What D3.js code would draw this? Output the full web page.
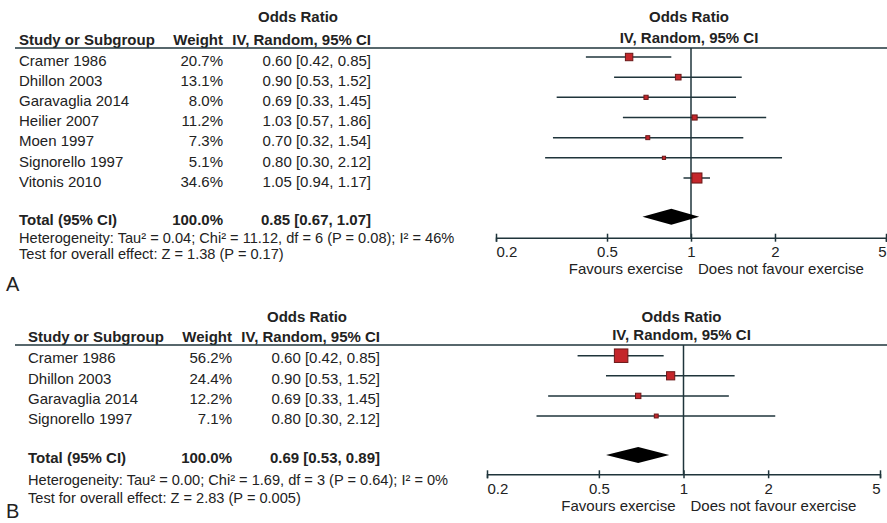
<!DOCTYPE html>
<html>
<head>
<meta charset="utf-8">
<script src="https://cdn.jsdelivr.net/npm/d3@7"></script>
<style>
  html, body { margin: 0; padding: 0; background: #ffffff; }
  svg text { font-family: "Liberation Sans", Arial, sans-serif; fill: #222; }
</style>
</head>
<body>
<div class="forest-container"></div>
<script>
// forest plots: two panels, each a table on the left and the odds ratios on a log axis

// panel A
const studies_a = ['Cramer 1986', 'Dhillon 2003', 'Garavaglia 2014', 'Heilier 2007', 'Moen 1997', 'Signorello 1997', 'Vitonis 2010'];
const weights_a = [20.7, 13.1, 8.0, 11.2, 7.3, 5.1, 34.6];
const or_a = [0.60, 0.90, 0.69, 1.03, 0.70, 0.80, 1.05];
const lo_a = [0.42, 0.53, 0.33, 0.57, 0.32, 0.30, 0.94];
const hi_a = [0.85, 1.52, 1.45, 1.86, 1.54, 2.12, 1.17];
const total_a = [0.85, 0.67, 1.07];
const het_a = 'Heterogeneity: Tau\u00b2 = 0.04; Chi\u00b2 = 11.12, df = 6 (P = 0.08); I\u00b2 = 46%';
const test_a = 'Test for overall effect: Z = 1.38 (P = 0.17)';

// panel B
const studies_b = ['Cramer 1986', 'Dhillon 2003', 'Garavaglia 2014', 'Signorello 1997'];
const weights_b = [56.2, 24.4, 12.2, 7.1];
const or_b = [0.60, 0.90, 0.69, 0.80];
const lo_b = [0.42, 0.53, 0.33, 0.30];
const hi_b = [0.85, 1.52, 1.45, 2.12];
const total_b = [0.69, 0.53, 0.89];
const het_b = 'Heterogeneity: Tau\u00b2 = 0.00; Chi\u00b2 = 1.69, df = 3 (P = 0.64); I\u00b2 = 0%';
const test_b = 'Test for overall effect: Z = 2.83 (P = 0.005)';

// axis
const tick_values = [0.2, 0.5, 1, 2, 5];
const tick_labels = ['0.2', '0.5', '1', '2', '5'];
const favours_left = 'Favours exercise';
const favours_right = 'Does not favour exercise';

const line_color = '#1f343b';
const box_fill = '#c4262b';
const box_stroke = '#6a1818';

function fmt_ci(or, lo, hi) {
   return `${or.toFixed(2)} [${lo.toFixed(2)}, ${hi.toFixed(2)}]`;
}

function build_container(width, height) {
   return d3.select('.forest-container')
      .append('svg')
      .attr('width', width)
      .attr('height', height);
}

function draw_panel(svg, p) {
   const g = svg.append('g').attr('class', 'panel');

   const rows = p.studies.map((s, i) => ({
      name: s, weight: p.weights[i], or: p.or[i], lo: p.lo[i], hi: p.hi[i]
   }));

   const x_scale = d3.scaleLog()
      .domain([tick_values[0], tick_values[tick_values.length - 1]])
      .range(p.plot_range);

   const y_scale = d3.scalePoint()
      .domain(p.studies)
      .range(p.row_range);

   const box_scale = d3.scalePow().exponent(0.6)
      .domain([0, 56.2])
      .range([0, 13.5]);

   // headers
   const bold = sel => sel.style('font-weight', 'bold').style('font-size', '15px');
   g.append('text').attr('x', p.ci_right - 73).attr('y', p.head1_y).attr('dy', '0.35em')
      .attr('text-anchor', 'middle').text('Odds Ratio').call(bold);
   g.append('text').attr('x', p.name_x).attr('y', p.head2_y).attr('dy', '0.35em')
      .text('Study or Subgroup').call(bold);
   g.append('text').attr('x', p.weight_right).attr('y', p.head2_y).attr('dy', '0.35em')
      .attr('text-anchor', 'end').text('Weight').call(bold);
   g.append('text').attr('x', p.ci_right).attr('y', p.head2_y).attr('dy', '0.35em')
      .attr('text-anchor', 'end').text('IV, Random, 95% CI').call(bold);
   g.append('text').attr('x', x_scale(1) - 2).attr('y', p.head1_y).attr('dy', '0.35em')
      .attr('text-anchor', 'middle').text('Odds Ratio').call(bold);
   g.append('text').attr('x', x_scale(1) - 2).attr('y', p.head2_y - 2).attr('dy', '0.35em')
      .attr('text-anchor', 'middle').text('IV, Random, 95% CI').call(bold);

   g.append('line')
      .attr('x1', 15).attr('x2', 887)
      .attr('y1', p.rule_y).attr('y2', p.rule_y)
      .style('stroke', line_color).style('stroke-width', 1.5);

   // study rows text
   const row_text = g.append('g').attr('class', 'row-text')
      .selectAll('g').data(rows).enter().append('g')
      .attr('transform', d => `translate(0, ${y_scale(d.name) + p.text_shift})`)
      .style('font-size', '15px');
   row_text.append('text').attr('x', p.name_x).attr('dy', '0.35em').text(d => d.name);
   row_text.append('text').attr('x', p.weight_right).attr('dy', '0.35em')
      .attr('text-anchor', 'end').text(d => d.weight.toFixed(1) + '%');
   row_text.append('text').attr('x', p.ci_right).attr('dy', '0.35em')
      .attr('text-anchor', 'end').text(d => fmt_ci(d.or, d.lo, d.hi));

   // total row text
   const ty = p.total_y + p.text_shift;
   g.append('text').attr('x', p.name_x).attr('y', ty).attr('dy', '0.35em')
      .text('Total (95% CI)').call(bold);
   g.append('text').attr('x', p.weight_right).attr('y', ty).attr('dy', '0.35em')
      .attr('text-anchor', 'end').text('100.0%').call(bold);
   g.append('text').attr('x', p.ci_right).attr('y', ty).attr('dy', '0.35em')
      .attr('text-anchor', 'end').text(fmt_ci(p.total[0], p.total[1], p.total[2])).call(bold);

   g.append('text').attr('x', p.name_x).attr('y', p.het_y).attr('dy', '0.35em')
      .style('font-size', '14.6px').text(p.het);
   g.append('text').attr('x', p.name_x).attr('y', p.test_y).attr('dy', '0.35em')
      .style('font-size', '14.6px').text(p.test);
   g.append('text').attr('x', 6).attr('y', p.letter_y)
      .style('font-size', '20px').text(p.letter);

   // line of no effect
   g.append('line')
      .attr('x1', x_scale(1)).attr('x2', x_scale(1))
      .attr('y1', p.rule_y).attr('y2', p.axis_y)
      .style('stroke', line_color).style('stroke-width', 1.5);

   // confidence intervals
   g.append('g').attr('class', 'ci-lines')
      .selectAll('line').data(rows).enter().append('line')
      .attr('x1', d => x_scale(d.lo)).attr('x2', d => x_scale(d.hi))
      .attr('y1', d => y_scale(d.name)).attr('y2', d => y_scale(d.name))
      .style('stroke', line_color).style('stroke-width', 1.5);

   // weight boxes
   g.append('g').attr('class', 'boxes')
      .selectAll('rect').data(rows).enter().append('rect')
      .attr('x', d => x_scale(d.or) - box_scale(d.weight) / 2)
      .attr('y', d => y_scale(d.name) - box_scale(d.weight) / 2)
      .attr('width', d => box_scale(d.weight))
      .attr('height', d => box_scale(d.weight))
      .style('fill', box_fill).style('stroke', box_stroke).style('stroke-width', 1);

   // pooled diamond
   const diamond = [
      [x_scale(p.total[1]), p.total_y],
      [x_scale(p.total[0]), p.total_y - 8],
      [x_scale(p.total[2]), p.total_y],
      [x_scale(p.total[0]), p.total_y + 8]
   ];
   g.append('path')
      .attr('d', d3.line()(diamond) + 'Z')
      .style('fill', '#000');

   // axis
   const x_axis = d3.axisBottom(x_scale)
      .tickValues(tick_values)
      .tickFormat((d, i) => tick_labels[i])
      .tickSizeOuter(0)
      .tickSize(4);
   const ax = g.append('g')
      .attr('class', 'x axis')
      .attr('transform', `translate(0, ${p.axis_y})`)
      .call(x_axis);
   ax.select('.domain').style('stroke', line_color).style('stroke-width', 1.5);
   ax.selectAll('.tick line').attr('y1', -4).attr('y2', 4)
      .style('stroke', line_color).style('stroke-width', 1.5);
   ax.selectAll('.tick text')
      .attr('y', 14).attr('dy', '0.35em')
      .attr('text-anchor', (d, i) => i === 0 ? 'start' : (i === tick_values.length - 1 ? 'end' : 'middle'))
      .style('font-size', '15px')
      .style('font-family', '"Liberation Sans", Arial, sans-serif')
      .style('fill', '#222');

   g.append('text').attr('x', x_scale(1) - 8).attr('y', p.axis_y + 31).attr('dy', '0.35em')
      .attr('text-anchor', 'end').style('font-size', '15px').text(favours_left);
   g.append('text').attr('x', x_scale(1) + 7).attr('y', p.axis_y + 31).attr('dy', '0.35em')
      .style('font-size', '15px').text(favours_right);
}

function forest_main() {
   const svg = build_container(887, 523);

   draw_panel(svg, {
      studies: studies_a, weights: weights_a, or: or_a, lo: lo_a, hi: hi_a,
      total: total_a, het: het_a, test: test_a, letter: 'A',
      name_x: 19, weight_right: 223, ci_right: 371,
      plot_range: [496, 886], row_range: [57, 178], total_y: 216.7,
      rule_y: 48, axis_y: 237.7, text_shift: 3.5,
      head1_y: 17, head2_y: 40, het_y: 237.5, test_y: 253.5, letter_y: 291
   });

   draw_panel(svg, {
      studies: studies_b, weights: weights_b, or: or_b, lo: lo_b, hi: hi_b,
      total: total_b, het: het_b, test: test_b, letter: 'B',
      name_x: 28, weight_right: 232, ci_right: 380,
      plot_range: [487, 880], row_range: [355.7, 416], total_y: 455,
      rule_y: 345, axis_y: 474.3, text_shift: 2.5,
      head1_y: 316.7, head2_y: 337, het_y: 479.5, test_y: 497.5, letter_y: 518
   });
}

forest_main();
</script>
</body>
</html>
